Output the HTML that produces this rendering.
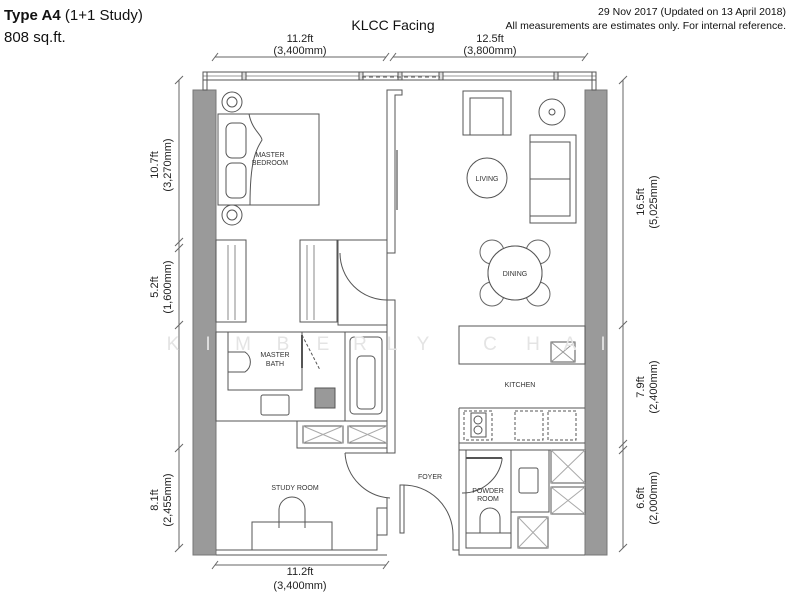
<!DOCTYPE html>
<html><head><meta charset="utf-8"><style>
body{margin:0;background:#fff;width:799px;height:600px;overflow:hidden;font-family:"Liberation Sans",sans-serif}
svg{position:absolute;left:0;top:0}
.t{font-family:"Liberation Sans",sans-serif;font-size:11px;fill:#222}
.s{font-family:"Liberation Sans",sans-serif;font-size:7px;fill:#333}
</style></head><body>
<svg width="799" height="600" viewBox="0 0 799 600" fill="none" stroke="#555" stroke-width="1">
<text x="4" y="20" style="font-size:15px;fill:#111" stroke="none" font-family="Liberation Sans"><tspan font-weight="bold">Type A4</tspan> (1+1 Study)</text>
<text x="4" y="42" style="font-size:15px;fill:#111" stroke="none" font-family="Liberation Sans">808 sq.ft.</text>
<text x="393" y="30" text-anchor="middle" style="font-size:14px;fill:#111" stroke="none" font-family="Liberation Sans">KLCC Facing</text>
<text x="786" y="15" text-anchor="end" style="font-size:10.5px;fill:#111" stroke="none" font-family="Liberation Sans">29 Nov 2017 (Updated on 13 April 2018)</text>
<text x="786" y="29" text-anchor="end" style="font-size:10.5px;fill:#111" stroke="none" font-family="Liberation Sans">All measurements are estimates only. For internal reference.</text>
<g stroke="#666">
<line x1="215" y1="57" x2="386" y2="57"/><line x1="393" y1="57" x2="585" y2="57"/>
<line x1="212" y1="61" x2="218" y2="53"/><line x1="383" y1="61" x2="389" y2="53"/><line x1="390" y1="61" x2="396" y2="53"/><line x1="582" y1="61" x2="588" y2="53"/>
<line x1="215" y1="565" x2="386" y2="565"/><line x1="212" y1="569" x2="218" y2="561"/><line x1="383" y1="569" x2="389" y2="561"/>
<line x1="179" y1="80" x2="179" y2="548"/><line x1="623" y1="80" x2="623" y2="548"/>
<g><line x1="175" y1="84" x2="183" y2="76"/><line x1="175" y1="252" x2="183" y2="244"/><line x1="175" y1="246" x2="183" y2="238"/><line x1="175" y1="329" x2="183" y2="321"/><line x1="175" y1="452" x2="183" y2="444"/><line x1="175" y1="552" x2="183" y2="544"/>
<line x1="619" y1="84" x2="627" y2="76"/><line x1="619" y1="329" x2="627" y2="321"/><line x1="619" y1="448" x2="627" y2="440"/><line x1="619" y1="454" x2="627" y2="446"/><line x1="619" y1="552" x2="627" y2="544"/></g>
</g>
<g stroke="none" class="t" style="font-size:11px;fill:#222">
<text x="300" y="42" text-anchor="middle">11.2ft</text><text x="300" y="54" text-anchor="middle">(3,400mm)</text>
<text x="490" y="42" text-anchor="middle">12.5ft</text><text x="490" y="54" text-anchor="middle">(3,800mm)</text>
<text x="300" y="575" text-anchor="middle">11.2ft</text><text x="300" y="589" text-anchor="middle">(3,400mm)</text>
<g transform="translate(158,165) rotate(-90)"><text text-anchor="middle">10.7ft</text><text y="13" text-anchor="middle">(3,270mm)</text></g>
<g transform="translate(158,287) rotate(-90)"><text text-anchor="middle">5.2ft</text><text y="13" text-anchor="middle">(1,600mm)</text></g>
<g transform="translate(158,500) rotate(-90)"><text text-anchor="middle">8.1ft</text><text y="13" text-anchor="middle">(2,455mm)</text></g>
<g transform="translate(644,202) rotate(-90)"><text text-anchor="middle">16.5ft</text><text y="13" text-anchor="middle">(5,025mm)</text></g>
<g transform="translate(644,387) rotate(-90)"><text text-anchor="middle">7.9ft</text><text y="13" text-anchor="middle">(2,400mm)</text></g>
<g transform="translate(644,498) rotate(-90)"><text text-anchor="middle">6.6ft</text><text y="13" text-anchor="middle">(2,000mm)</text></g>
</g>
<rect x="193" y="90" width="23" height="465" fill="#9a9a9a" stroke="#777"/>
<rect x="585" y="90" width="22" height="465" fill="#9a9a9a" stroke="#777"/>
<rect x="203" y="72" width="393" height="8"/>
<line x1="203" y1="76" x2="596" y2="76" stroke="#999"/>
<rect x="203" y="72" width="4" height="18"/><rect x="592" y="72" width="4" height="18"/>
<rect x="242" y="72" width="4" height="8" fill="#ddd"/><rect x="359" y="72" width="4" height="8" fill="#ddd"/><rect x="398" y="72" width="4" height="8" fill="#ddd"/><rect x="439" y="72" width="4" height="8" fill="#ddd"/><rect x="554" y="72" width="4" height="8" fill="#ddd"/>
<line x1="362" y1="77" x2="440" y2="77" stroke-dasharray="4 3"/>
<path d="M387 253 V90 H402 V95 H395 V253 Z"/>
<path d="M387 300 V453 H395 V300 Z"/>
<path d="M395 253 H387 M387 300 A47 47 0 0 1 340 253" />
<line x1="397" y1="150" x2="397" y2="210" stroke-width="2" stroke="#999"/>
<rect x="218" y="114" width="101" height="91"/>
<path d="M249 114 C252 130 262 135 262 140 C256 150 250 160 250 205"/>
<rect x="226" y="123" width="20" height="35" rx="6"/><rect x="226" y="163" width="20" height="35" rx="6"/>
<circle cx="232" cy="102" r="10"/><circle cx="232" cy="102" r="5"/><circle cx="232" cy="215" r="10"/><circle cx="232" cy="215" r="5"/>
<text x="270" y="157" class="s" text-anchor="middle" stroke="none">MASTER</text><text x="270" y="165" class="s" text-anchor="middle" stroke="none">BEDROOM</text>
<rect x="216" y="240" width="30" height="82"/><rect x="300" y="240" width="37" height="82"/>
<g stroke="#888"><path d="M228 245 V320 M235 245 V320 M307 245 V320 M314 245 V320"/></g>
<rect x="338" y="240" width="49" height="85"/>
<rect x="216" y="332" width="171" height="89"/>
<rect x="228" y="332" width="74" height="58"/>
<path d="M228 352 H245 A12 12 0 0 1 245 372 H228"/>
<rect x="261" y="395" width="28" height="20" rx="2"/>
<rect x="345" y="332" width="42" height="89"/>
<rect x="350" y="337" width="32" height="77" rx="4"/><rect x="357" y="356" width="18" height="53" rx="4"/>
<rect x="315" y="388" width="20" height="20" fill="#999"/>
<path d="M302 335 V368" stroke-width="2"/><path d="M302 335 L320 370" stroke-dasharray="3 2"/>
<text x="275" y="357" class="s" text-anchor="middle" stroke="none">MASTER</text><text x="275" y="366" class="s" text-anchor="middle" stroke="none">BATH</text>
<path d="M216 421 H297 V448 H387"/>
<rect x="303" y="426" width="40" height="17"/><rect x="348" y="426" width="39" height="17"/>
<path d="M303 426 L343 443 M343 426 L303 443 M348 426 L387 443 M387 426 L348 443" stroke="#aaa"/>
<path d="M216 550 H377 V535 H387 V498" />
<path d="M216 555 H387"/>
<rect x="377" y="508" width="10" height="27"/>
<path d="M345 453 H387 M345 453 A48 48 0 0 0 390 498"/>
<rect x="252" y="522" width="80" height="28"/>
<path d="M279 528 V510 A12 12 0 0 1 305 510 V528"/>
<text x="295" y="490" class="s" text-anchor="middle" stroke="none">STUDY ROOM</text>
<path d="M400 485 V533 H404 V485 Z"/>
<path d="M402 485 A50 50 0 0 1 453 535"/>
<text x="430" y="479" class="s" text-anchor="middle" stroke="none">FOYER</text>
<rect x="463" y="91" width="48" height="44"/><rect x="470" y="98" width="33" height="37"/>
<circle cx="552" cy="112" r="13"/><circle cx="552" cy="112" r="3"/>
<rect x="530" y="135" width="46" height="88"/><rect x="530" y="142" width="40" height="74"/><line x1="530" y1="179" x2="570" y2="179"/>
<circle cx="487" cy="178" r="20"/>
<text x="487" y="181" class="s" text-anchor="middle" stroke="none">LIVING</text>
<circle cx="515" cy="273" r="27"/>
<g stroke="#666"><circle cx="492" cy="252" r="12"/><circle cx="538" cy="252" r="12"/><circle cx="492" cy="294" r="12"/><circle cx="538" cy="294" r="12"/></g>
<circle cx="515" cy="273" r="27" fill="#fff"/>
<text x="515" y="276" class="s" text-anchor="middle" stroke="none">DINING</text>
<rect x="459" y="326" width="126" height="38"/>
<rect x="551" y="342" width="24" height="20"/><path d="M551 342 L575 362 M575 342 L551 362" stroke="#999"/>
<text x="520" y="387" class="s" text-anchor="middle" stroke="none">KITCHEN</text>
<path d="M459 408 H585 M459 408 V450 H585 M459 443 H585"/>
<rect x="464" y="411" width="28" height="29" stroke-dasharray="3 2"/><rect x="471" y="413" width="15" height="24"/>
<circle cx="478" cy="420" r="4"/><circle cx="478" cy="430" r="4"/>
<rect x="515" y="411" width="28" height="29" stroke-dasharray="3 2"/><rect x="548" y="411" width="28" height="29" stroke-dasharray="3 2"/>
<path d="M459 450 V555 H585"/>
<rect x="466" y="450" width="45" height="98"/>
<rect x="511" y="450" width="38" height="62"/>
<rect x="519" y="468" width="19" height="25" rx="2"/>
<rect x="551" y="450" width="34" height="33"/><rect x="551" y="487" width="34" height="27"/><rect x="518" y="517" width="30" height="31"/>
<path d="M551 450 L585 483 M585 450 L551 483 M551 487 L585 514 M585 487 L551 514 M518 517 L548 548 M548 517 L518 548" stroke="#aaa"/>
<path d="M480 533 V518 A10 10 0 0 1 500 518 V533"/><line x1="466" y1="533" x2="511" y2="533"/>
<path d="M462 493 H466 M502 458 V460 A40 40 0 0 1 462 493"/>
<line x1="466" y1="458" x2="502" y2="458" stroke-width="2"/>
<path d="M453 535 V550 H459" />
<text x="488" y="493" class="s" text-anchor="middle" stroke="none">POWDER</text><text x="488" y="501" class="s" text-anchor="middle" stroke="none">ROOM</text>
<g stroke="none" style="font-size:19px;fill:#e4e4e4" font-family="Liberation Sans" text-anchor="middle">
<text x="173" y="350">K</text><text x="208" y="350">I</text><text x="243" y="350">M</text><text x="283" y="350">B</text><text x="323" y="350">E</text><text x="360" y="350">R</text><text x="392" y="350">L</text><text x="423" y="350">Y</text><text x="490" y="350">C</text><text x="533" y="350">H</text><text x="570" y="350">A</text><text x="603" y="350">I</text>
</g>
</svg>
</body></html>
